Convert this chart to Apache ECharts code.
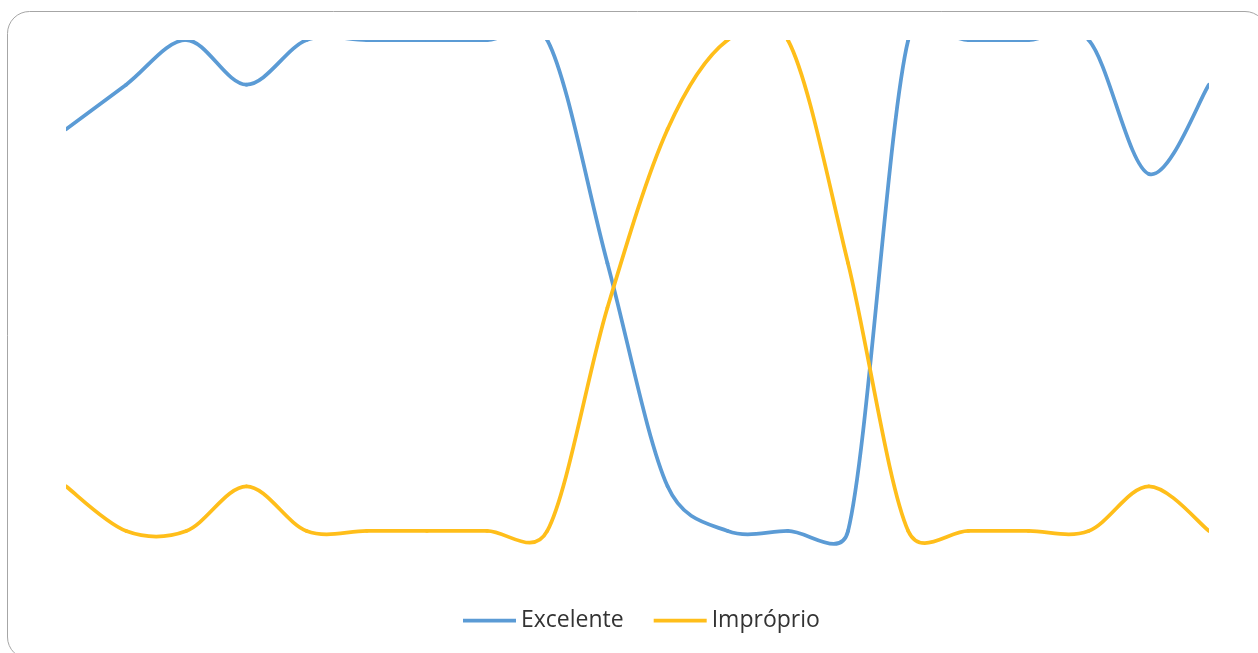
<!DOCTYPE html>
<html>
<head>
<meta charset="utf-8">
<title>Excelente / Impróprio</title>
<script src="https://cdn.jsdelivr.net/npm/echarts@6/dist/echarts.min.js"></script>
<style>
  html, body { margin: 0; padding: 0; background: #ffffff; }
  #chart { width: 1258px; height: 653px; }
</style>
</head>
<body>
<div id="chart"></div>
<script>
// Sampling points along the horizontal axis (hidden)
const categories = ['1','2','3','4','5','6','7','8','9','10','11','12','13','14','15','16','17','18','19','20'];

// Counts per classification
const excelente = [9, 10, 11, 10, 11, 11, 11, 11, 11, 6, 1, 0, 0, 0, 11, 11, 11, 11, 8, 10];
const improprio = [1, 0, 0, 1, 0, 0, 0, 0, 0, 5, 9, 11, 11, 6, 0, 0, 0, 0, 1, 0];

const seriesNames = ['Excelente', 'Impróprio'];
const seriesColors = ['#5B9BD5', '#FFBE1A'];

// Smoothed line drawn segment by segment: cubic Bezier whose tangents follow
// the neighbouring points (factor 1/6), with each control arm limited to half
// the length of the segment it belongs to.
function smoothSegmentRenderer(values, color) {
  const F = 1 / 6;
  const dist = (a, b) => Math.hypot(b[0] - a[0], b[1] - a[1]);
  return function (params, api) {
    const i = params.dataIndexInside;
    const n = values.length;
    if (i >= n - 1) return null;
    const pt = (k) => {
      const kk = Math.max(0, Math.min(n - 1, k));
      return api.coord([kk, api.value(1, kk)]);
    };
    const p0 = pt(i - 1), p1 = pt(i), p2 = pt(i + 1), p3 = pt(i + 2);
    const d12 = dist(p1, p2);
    const d02 = dist(p0, p2);
    const d13 = dist(p1, p3);
    const f1 = d02 > 0 ? Math.min(F, 0.5 * d12 / d02) : F;
    const f2 = d13 > 0 ? Math.min(F, 0.5 * d12 / d13) : F;
    return {
      type: 'bezierCurve',
      shape: {
        x1: p1[0], y1: p1[1],
        x2: p2[0], y2: p2[1],
        cpx1: p1[0] + (p2[0] - p0[0]) * f1,
        cpy1: p1[1] + (p2[1] - p0[1]) * f1,
        cpx2: p2[0] - (p3[0] - p1[0]) * f2,
        cpy2: p2[1] - (p3[1] - p1[1]) * f2
      },
      style: { stroke: color, fill: null, lineWidth: 3.75, lineCap: 'round' }
    };
  };
}

function toPairs(values) {
  return values.map((v, k) => [k, v]);
}

const chart = echarts.init(document.getElementById('chart'), null, { renderer: 'canvas' });

chart.setOption({
  backgroundColor: '#ffffff',
  animation: false,
  graphic: [{
    type: 'rect',
    silent: true,
    z: -1,
    shape: { x: 7.5, y: 11.5, width: 1259.5, height: 647.5, r: 22 },
    style: { fill: 'none', stroke: '#a6a6a6', lineWidth: 1 }
  }],
  grid: { left: 66, right: 49, top: 40, height: 513.3 },
  legend: {
    left: 463,
    top: 609,
    padding: 0,
    icon: 'rect',
    itemWidth: 53,
    itemHeight: 3.75,
    itemGap: 30,
    textStyle: { fontFamily: 'Open Sans', fontSize: 23, color: '#333333' },
    data: seriesNames
  },
  xAxis: {
    type: 'category',
    data: categories,
    boundaryGap: false,
    show: false
  },
  yAxis: {
    type: 'value',
    min: -0.5,
    max: 11,
    show: false,
    splitLine: { show: false }
  },
  series: [
    {
      name: seriesNames[0],
      type: 'custom',
      clip: true,
      data: toPairs(excelente),
      encode: { x: 0, y: 1 },
      itemStyle: { color: seriesColors[0] },
      renderItem: smoothSegmentRenderer(excelente, seriesColors[0])
    },
    {
      name: seriesNames[1],
      type: 'custom',
      clip: true,
      data: toPairs(improprio),
      encode: { x: 0, y: 1 },
      itemStyle: { color: seriesColors[1] },
      renderItem: smoothSegmentRenderer(improprio, seriesColors[1])
    }
  ]
});
</script>
</body>
</html>
